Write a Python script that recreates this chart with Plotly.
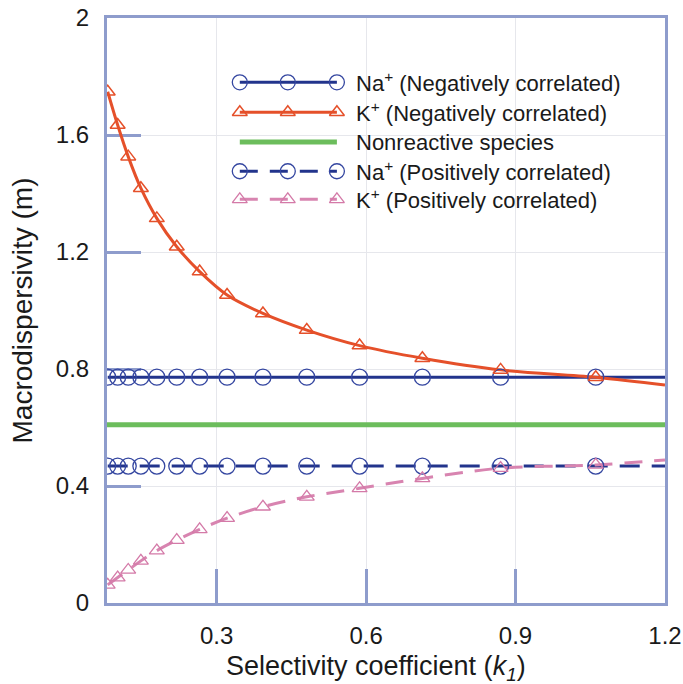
import plotly.graph_objects as go

# ---------------- data ----------------
k1 = [0.0814, 0.1014, 0.1226, 0.148, 0.180, 0.220, 0.266, 0.321, 0.393,
      0.481, 0.587, 0.713, 0.870, 1.061]
na_neg = [0.772, 0.772, 0.772, 0.772, 0.772, 0.772, 0.772, 0.772, 0.772,
          0.772, 0.772, 0.772, 0.772, 0.772]
k_neg = [1.748, 1.634, 1.526, 1.418, 1.315, 1.218, 1.133, 1.053, 0.990,
         0.933, 0.880, 0.837, 0.797, 0.772]
na_pos = [0.468, 0.468, 0.468, 0.468, 0.468, 0.468, 0.468, 0.468, 0.468,
          0.468, 0.468, 0.468, 0.468, 0.468]
k_pos = [0.062, 0.087, 0.113, 0.144, 0.179, 0.215, 0.252, 0.290, 0.329,
         0.363, 0.392, 0.426, 0.461, 0.472]
# curve end values at the right edge (k1 = 1.2)
x_end = 1.2
na_neg_end = 0.772
k_neg_end = 0.745
na_pos_end = 0.468
k_pos_end = 0.489
nonreactive_x = [0.08, 1.2]
nonreactive_y = [0.609, 0.609]

x_ticks = [0.3, 0.6, 0.9, 1.2]
x_ticklabels = ["0.3", "0.6", "0.9", "1.2"]
y_ticks = [0, 0.4, 0.8, 1.2, 1.6, 2]
y_ticklabels = ["0", "0.4", "0.8", "1.2", "1.6", "2"]

x_title = "Selectivity coefficient (<i>k</i><sub><i>1</i></sub>)"
y_title = "Macrodispersivity (m)"
legend_labels = [
    "Na<sup>+</sup> (Negatively correlated)",
    "K<sup>+</sup> (Negatively correlated)",
    "Nonreactive species",
    "Na<sup>+</sup> (Positively correlated)",
    "K<sup>+</sup> (Positively correlated)",
]

# ---------------- styles ----------------
FONT = "Liberation Sans, Arial, sans-serif"
NAVY = "#22348c"
NAVY_MK = "#3446a0"
ORANGE = "#e5502a"
GREEN = "#6cbd5c"
PINK = "#d884b0"
PINK_MK = "#d47aa8"
AXIS = "#8e9ccc"
GRID = "#e6e7ec"

fig = go.Figure()

# ---- lines ----
fig.add_trace(go.Scatter(x=nonreactive_x, y=nonreactive_y, mode="lines",
                         line=dict(color=GREEN, width=5), showlegend=False))
fig.add_trace(go.Scatter(x=k1 + [x_end], y=na_pos + [na_pos_end], mode="lines",
                         line=dict(color=NAVY, width=3, dash="20px,12px"),
                         showlegend=False))
fig.add_trace(go.Scatter(x=k1 + [x_end], y=k_pos + [k_pos_end], mode="lines",
                         line=dict(color=PINK, width=3, dash="18px,12px", shape="spline"),
                         showlegend=False))
fig.add_trace(go.Scatter(x=k1 + [x_end], y=na_neg + [na_neg_end], mode="lines",
                         line=dict(color=NAVY, width=3), showlegend=False))
fig.add_trace(go.Scatter(x=k1 + [x_end], y=k_neg + [k_neg_end], mode="lines",
                         line=dict(color=ORANGE, width=3, shape="spline"),
                         showlegend=False))

# ---- markers ----
def open_marker(symbol, size, color, width):
    return dict(symbol=symbol, size=size, color=color, line=dict(color=color, width=width))

fig.add_trace(go.Scatter(x=k1, y=na_pos, mode="markers",
                         marker=open_marker("circle-open", 16, NAVY_MK, 1.3),
                         showlegend=False))
fig.add_trace(go.Scatter(x=k1, y=k_pos, mode="markers",
                         marker=open_marker("triangle-up-open", 13, PINK_MK, 1.3),
                         showlegend=False))
fig.add_trace(go.Scatter(x=k1, y=na_neg, mode="markers",
                         marker=open_marker("circle-open", 16, NAVY_MK, 1.3),
                         showlegend=False))
fig.add_trace(go.Scatter(x=k1, y=k_neg, mode="markers",
                         marker=open_marker("triangle-up-open", 13, ORANGE, 1.5),
                         showlegend=False))

# ---------------- custom legend (hidden overlay axes, 0..1) ----------------
leg_x = [0.238, 0.324, 0.412]
leg_text_x = 0.443
leg_rows = [0.890, 0.839, 0.788, 0.738, 0.690]
leg_styles = [
    dict(line=dict(color=NAVY, width=3),
         marker=open_marker("circle-open", 15, NAVY_MK, 1.3),
         mode="lines+markers"),
    dict(line=dict(color=ORANGE, width=3),
         marker=open_marker("triangle-up-open", 13, ORANGE, 1.5),
         mode="lines+markers"),
    dict(line=dict(color=GREEN, width=5), mode="lines"),
    dict(line=dict(color=NAVY, width=3, dash="18px,12px"),
         marker=open_marker("circle-open", 15, NAVY_MK, 1.3),
         mode="lines+markers"),
    dict(line=dict(color=PINK, width=3, dash="18px,12px"),
         marker=open_marker("triangle-up-open", 13, PINK_MK, 1.3),
         mode="lines+markers"),
]
for row, style, label in zip(leg_rows, leg_styles, legend_labels):
    fig.add_trace(go.Scatter(x=leg_x, y=[row] * len(leg_x), xaxis="x2", yaxis="y2",
                             showlegend=False, hoverinfo="skip", **style))
    fig.add_annotation(x=leg_text_x, y=row, xref="x2", yref="y2", text=label,
                       showarrow=False, xanchor="left", yanchor="middle",
                       font=dict(family=FONT, size=22, color="#1a1a1a"))

# x-axis title (slightly left of centre, as in the reference)
fig.add_annotation(x=0.482, y=0, xref="paper", yref="paper", text=x_title,
                   showarrow=False, xanchor="center", yanchor="top", yshift=-46,
                   font=dict(family=FONT, size=27, color="#1a1a1a"))

fig.update_layout(
    width=683, height=684,
    margin=dict(l=107, r=18, t=18, b=81, autoexpand=False),
    paper_bgcolor="white", plot_bgcolor="white",
    font=dict(family=FONT, color="#1a1a1a", size=22),
    showlegend=False,
    xaxis=dict(
        range=[0.08, 1.2], tickvals=x_ticks, ticktext=x_ticklabels,
        ticks="inside", ticklen=34, tickwidth=2.5, tickcolor=AXIS,
        showline=True, linecolor=AXIS, linewidth=3, mirror=True,
        showgrid=True, gridcolor=GRID, gridwidth=1, zeroline=False,
        layer="below traces", ticklabelstandoff=9, automargin=False,
        ticklabeloverflow="allow",
        tickfont=dict(size=24),
    ),
    yaxis=dict(
        range=[0, 2], tickvals=y_ticks, ticktext=y_ticklabels,
        ticks="inside", ticklen=34, tickwidth=2.5, tickcolor=AXIS,
        showline=True, linecolor=AXIS, linewidth=3, mirror=True,
        showgrid=True, gridcolor=GRID, gridwidth=1, zeroline=False,
        layer="below traces", ticklabelstandoff=10, automargin=False,
        ticklabeloverflow="allow",
        tickfont=dict(size=24),
        title=dict(text=y_title, font=dict(size=28), standoff=16),
    ),
    xaxis2=dict(domain=[0, 1], anchor="y2", overlaying="x", range=[0, 1],
                visible=False, fixedrange=True),
    yaxis2=dict(domain=[0, 1], anchor="x2", overlaying="y", range=[0, 1],
                visible=False, fixedrange=True),
)

# remove the default 8px page margin so the 683x684 figure fills the window exactly
fig.write_html("out.html", config={"displayModeBar": False},
               post_script="document.body.style.margin='0';")
